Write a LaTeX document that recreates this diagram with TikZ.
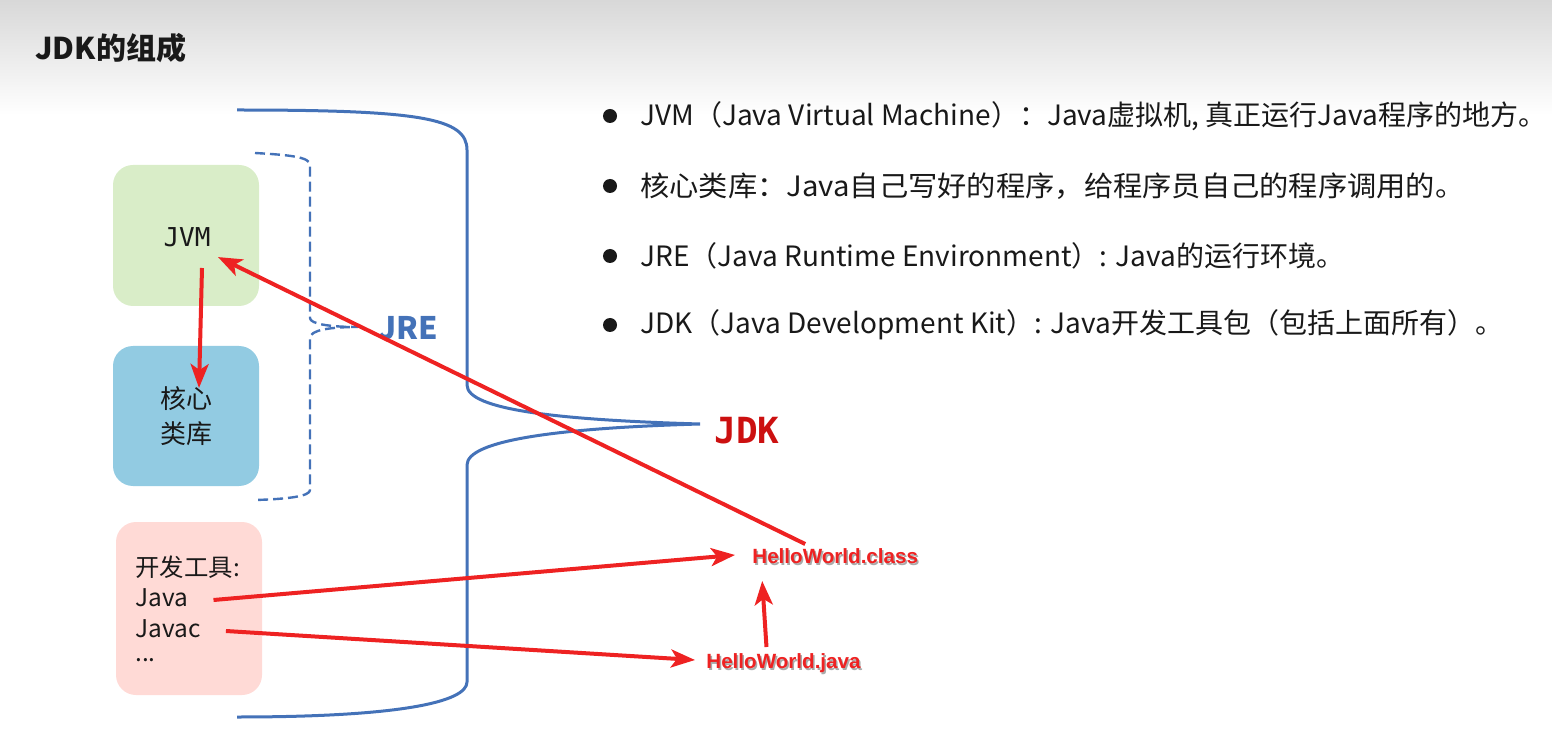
\documentclass[tikz,border=0pt]{standalone}
\usepackage{fontspec}
\setmainfont{Noto Sans CJK SC}
\newfontfamily\monof{DejaVu Sans Mono}
\newfontfamily\arialf{Liberation Sans}
\usetikzlibrary{arrows.meta,calc}
\definecolor{jblue}{RGB}{68,114,184}
\definecolor{jred}{RGB}{238,34,34}
\definecolor{jdkred}{RGB}{204,16,16}
\definecolor{boxgreen}{RGB}{217,237,200}
\definecolor{boxblue}{RGB}{146,203,226}
\definecolor{boxpink}{RGB}{255,218,214}
\definecolor{hdr}{RGB}{216,216,216}
\definecolor{txt}{RGB}{25,25,25}
\definecolor{shadowgray}{RGB}{170,170,170}
\begin{document}
\begin{tikzpicture}[x=0.5pt,y=-0.5pt,
  box/.style={rounded corners=10pt, inner sep=0, minimum width=73pt},
  bracket/.style={draw=jblue, line width=1.5pt},
  dbracket/.style={draw=jblue, line width=1.2pt, dash pattern=on 5pt off 2.5pt},
  redarrow/.style={draw=jred, line width=2pt, -{Stealth[length=12pt,width=9pt,inset=3pt]}},
  bullettext/.style={anchor=west, inner sep=0, font=\fontsize{14}{16}\selectfont, text=txt},
  boxtext/.style={anchor=west, inner sep=0, font=\fontsize{12.2}{14}\selectfont, text=txt},
  hwtext/.style={inner sep=0, font=\arialf\bfseries\fontsize{10.3}{12}\selectfont},
]
\useasboundingbox (0,0) rectangle (1552,753);
\shade[top color=hdr, bottom color=white] (0,0) rectangle (1552,115);

% title
\node[anchor=west, inner sep=0, font=\bfseries\fontsize{15}{18}\selectfont, text=txt] (title) at (35,48) {JDK的组成};

% boxes
\node[box, fill=boxgreen, minimum height=70.5pt] (jvmbox) at (186,235.5) {};
\node[inner sep=0, font=\monof\fontsize{13}{15}\selectfont, text=txt] (jvm) at (187,237) {JVM};
\node[box, fill=boxblue, minimum height=70pt] (corebox) at (186,416) {};
\node[align=center, inner sep=0, font=\fontsize{13}{17.5}\selectfont, text=txt] (core) at (186,416) {核心\\类库};
\node[box, fill=boxpink, minimum height=86.5pt] (devbox) at (189,608.5) {};
\node[boxtext] (devt) at (135,567) {开发工具:};
\node[boxtext] (java) at (135,598) {Java};
\node[boxtext] (javac) at (135,629) {Javac};
\node[boxtext] (dots) at (135,660) {...};

% JDK bracket
\draw[bracket] (237,110) .. controls (420,110) and (467,118) .. (467,150)
  -- (467,385) .. controls (467,410) and (560,420) .. (700,424)
  .. controls (560,428) and (467,440) .. (467,465)
  -- (467,682) .. controls (467,702) and (400,717) .. (237,717);
% JRE bracket
\draw[dbracket] (255,153) .. controls (290,155) and (310,157) .. (310,165)
  -- (310,318) .. controls (310,324) and (330,327) .. (358,327)
  .. controls (330,327) and (310,330) .. (310,338)
  -- (310,490) .. controls (310,496) and (290,499) .. (255,500);

\node[anchor=west, inner sep=0, font=\bfseries\fontsize{15.5}{18}\selectfont, text=jblue] (jre) at (378,328) {JRE};
\node[anchor=west, inner sep=0, font=\monof\bfseries\fontsize{18}{20}\selectfont, text=jdkred] (jdk) at (714,431) {JDK};

% HelloWorld labels
\node[hwtext, anchor=west, text=shadowgray] at (753.5,558) {HelloWorld.class};
\node[hwtext, anchor=west, text=jred] (hc) at (752,556) {HelloWorld.class};
\node[hwtext, anchor=west, text=shadowgray] at (707.5,665) {HelloWorld.java};
\node[hwtext, anchor=west, text=jred] (hj) at (706,663) {HelloWorld.java};

% arrows
\coordinate (h1) at (202,268);
\coordinate (h2) at (199,388);
\draw[redarrow] (h1) -- (h2);
\draw[redarrow] ($(hc.north)+(-30,-4)$) -- ($(jvm.south)+(31,10)$);
\draw[redarrow] ($(java.east)+(25,2)$) -- ($(hc.west)+(-17,-1)$);
\draw[redarrow] ($(javac.east)+(25,2)$) -- ($(hj.west)+(-11,-3)$);
\draw[redarrow] ($(hj.north)+(-17,-6)$) -- ($(hc.south)+(-73,17)$);

% bullets
\foreach \yy in {116,186,256,325} \fill[txt] (610,\yy) circle (7);
\node[bullettext] (b1) at (640,116) {JVM（Java Virtual Machine）：Java虚拟机, 真正运行Java程序的地方。};
\node[bullettext] (b2) at (640,186) {\scalebox{1.045}[1]{核心类库：Java自己写好的程序，给程序员自己的程序调用的。}};
\node[bullettext] (b3) at (640,256) {JRE（Java Runtime Environment）: Java的运行环境。};
\node[bullettext] (b4) at (640,325) {JDK（Java Development Kit）: Java开发工具包（包括上面所有）。};
\end{tikzpicture}
\end{document}
